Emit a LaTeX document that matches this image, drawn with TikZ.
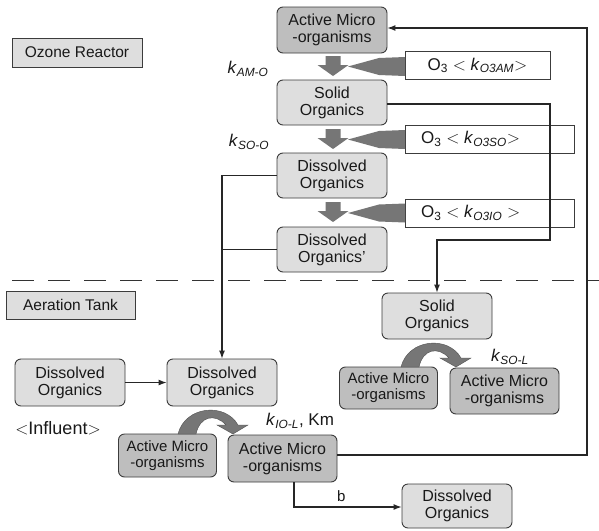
\documentclass[tikz,border=0pt]{standalone}
\usepackage{fontspec}
\setmainfont{Liberation Sans}
\usetikzlibrary{arrows.meta}
\definecolor{boxdark}{RGB}{190,190,190}
\definecolor{boxlight}{RGB}{222,222,222}
\definecolor{edge}{RGB}{60,60,60}
\definecolor{arrowgray}{RGB}{118,118,118}
\tikzset{
 base/.style={draw=edge, line width=0.9pt, align=center, font=\fontsize{16}{17}\selectfont, inner sep=0pt, text=black!90},
 darkbox/.style={base, fill=boxdark, rounded corners=6pt, minimum width=110pt, minimum height=46pt},
 smalldark/.style={base, fill=boxdark, rounded corners=6pt, minimum width=98pt, minimum height=43pt, font=\fontsize{15}{16}\selectfont},
 lightbox/.style={base, fill=boxlight, rounded corners=6pt, minimum width=110pt, minimum height=46pt},
 labelbox/.style={base, fill=boxlight, minimum height=29pt, font=\fontsize{15.5}{17}\selectfont},
 o3box/.style={base, fill=white, minimum height=28pt},
 conn/.style={draw=black!85, line width=1.1pt},
 tip/.style={-{Latex[length=8pt,width=6pt]}},
 klabel/.style={font=\fontsize{17}{19}\selectfont, inner sep=0pt, text=black!90},
 downarrow/.pic={\fill[arrowgray] (-7.5,0) -- (7.5,0) -- (7.5,9) -- (15.5,9) -- (0,20) -- (-15.5,9) -- (-7.5,9) -- cycle;},
 wedge/.pic={\fill[arrowgray] (0,-9.5) -- (-26,-8.5) -- (-57,0) -- (-26,8.5) -- (0,9.5) -- cycle;},
 curvearrow/.pic={\fill[arrowgray, draw=arrowgray!70!black, line width=0.4pt] (0,0) .. controls (7,-28) and (47,-32) .. (60,-9) -- (70,-9) -- (55,0) -- (39,-9) -- (48,-9) .. controls (37,-21) and (22,-18) .. (18,0) -- cycle;},
}
\begin{document}
\begin{tikzpicture}[x=1pt,y=-1pt]
\useasboundingbox (0,0) rectangle (599,530);
\fill[white] (0,0) rectangle (599,530);

% Ozone reactor
\node[labelbox, minimum width=130pt] (ozr) at (77,52.5) {Ozone Reactor};
\node[darkbox] (am1) at (332,30) {Active Micro\\-organisms};
\node[lightbox, minimum height=45pt] (so1) at (332,102.5) {Solid\\Organics};
\node[lightbox, minimum height=45pt] (do1) at (332,175.5) {Dissolved\\Organics};
\node[lightbox, minimum height=45pt] (do2) at (332,249.5) {Dissolved\\Organics'};

\node[o3box, minimum width=145pt, font=\fontsize{17}{19}\selectfont] (o3a) at (477.5,65.5) {O\textsubscript{3} $<$ \textit{k}\textsubscript{\textit{O3AM}}$>$};
\node[o3box, minimum width=169pt] (o3b) at (489.5,139) {};
\node[o3box, minimum width=169pt] (o3c) at (489.5,213) {};
\node[klabel, anchor=west] (o3bt) at (421,139) {O\textsubscript{3} $<$ \textit{k}\textsubscript{\textit{O3SO}}$>$};
\node[klabel, anchor=west] (o3ct) at (421,213) {O\textsubscript{3} $<$ \textit{k}\textsubscript{\textit{O3IO}} $>$};

\pic at (333,56) {downarrow};
\pic at (333,129) {downarrow};
\pic at (333,202) {downarrow};
\pic at (405,66.5) {wedge};
\pic at (405,139.5) {wedge};
\pic at (405,213) {wedge};

\node[klabel] (kamo) at (248,69) {\textit{k}\textsubscript{\textit{AM-O}}};
\node[klabel] (ksoo) at (249,142) {\textit{k}\textsubscript{\textit{SO-O}}};

% separator
\draw[gray!40!black, line width=1pt, dash pattern=on 22pt off 14pt] (12,280) -- (599,280);

% Aeration tank
\node[labelbox, minimum width=129pt, minimum height=28pt] (at) at (70.5,305) {Aeration Tank};
\node[lightbox, minimum height=47pt] (do4) at (70,382.5) {Dissolved\\Organics};
\node[lightbox, minimum height=47pt] (do3) at (222,382.5) {Dissolved\\Organics};
\node[klabel, font=\fontsize{18}{20}\selectfont] (infl) at (58,428) {$<$Influent$>$};
\node[smalldark] (am3) at (167.5,455.5) {Active Micro\\-organisms};
\node[darkbox, minimum width=109pt, minimum height=47pt] (am2) at (282.5,458.5) {Active Micro\\-organisms};
\node[klabel, anchor=west] (kio) at (266,421) {\textit{k}\textsubscript{\textit{IO-L}}, Km};

\node[lightbox] (so2) at (437,316) {Solid\\Organics};
\node[smalldark, minimum height=42pt] (am4) at (388.5,388) {Active Micro\\-organisms};
\node[darkbox, minimum width=109pt] (am5) at (504.5,391) {Active Micro\\-organisms};
\node[klabel, anchor=west] (ksol) at (491,357) {\textit{k}\textsubscript{\textit{SO-L}}};

\node[lightbox, minimum height=44pt] (do5) at (457,506) {Dissolved\\Organics};

\pic at (178,434) {curvearrow};
\pic at (401,367) {curvearrow};

% connectors
\coordinate (fb1) at (587,455);
\coordinate (sr1) at (550,104);
\coordinate (sr2) at (550,240);
\draw[conn,tip] ([yshift=3.5pt]am2.east) -- (fb1) |- ([yshift=2pt]am1.east);
\draw[conn,tip] ([yshift=-1.5pt]so1.east) -- (sr1) -- (sr2) -| (so2.north);
\draw[conn,tip] (do1.west) -| (do3.north);
\draw[conn] (do2.west) -- (do3.north |- do2.west);
\draw[conn,tip] (do4.east) -- (do3.west);
\draw[conn,tip] ([xshift=11.5pt]am2.south) |- ([yshift=-1pt]do5.west)
  node[klabel, font=\fontsize{15}{17}\selectfont, pos=0.72, above=5pt] {b};
\end{tikzpicture}
\end{document}
